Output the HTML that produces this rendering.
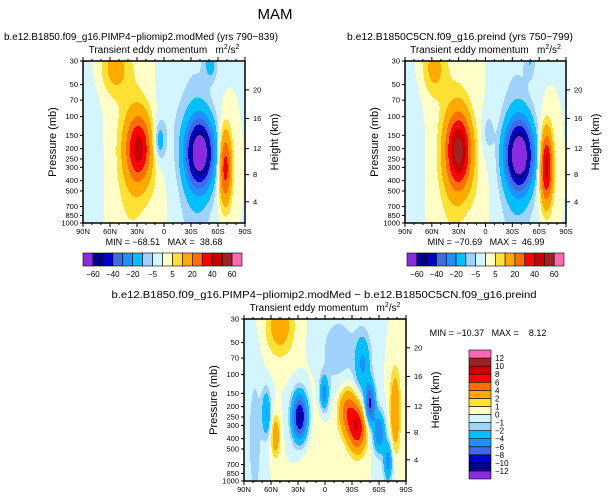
<!DOCTYPE html>
<html><head><meta charset="utf-8">
<style>
html,body{margin:0;padding:0;background:#fff;}
svg{display:block;font-family:"Liberation Sans",sans-serif;}
text{white-space:pre;}
</style></head>
<body>
<svg id="chart" width="615" height="500" viewBox="0 0 615 500" xml:space="preserve" xmlns="http://www.w3.org/2000/svg">
<text x="275" y="19" font-size="15" text-anchor="middle">MAM</text>
<text x="141" y="40" font-size="10" text-anchor="middle" textLength="274" lengthAdjust="spacingAndGlyphs">b.e12.B1850.f09_g16.PIMP4−pliomip2.modMed (yrs 790−839)</text>
<text x="460" y="40" font-size="10" text-anchor="middle" textLength="226" lengthAdjust="spacingAndGlyphs">b.e12.B1850C5CN.f09_g16.preind (yrs 750−799)</text>
<text x="324" y="298" font-size="10" text-anchor="middle" textLength="425" lengthAdjust="spacingAndGlyphs">b.e12.B1850.f09_g16.PIMP4−pliomip2.modMed − b.e12.B1850C5CN.f09_g16.preind</text>
<g id="layer"></g>
</svg>
<script>
// ---- data: blobs (lat deg, N positive; pressure mb; amplitude m2/s2; widths) ----
const p1Lat  = [28, 36, 55, 5, -40, -35, -52, -68, -5, 80, 8];
const p1Pres = [200, 250, 35, 170, 220, 300, 32, 300, 80, 300, 600];
const p1Amp  = [40, 7, 12, -14, -70, -9, -12, 36, -3, -3, 2];
const p1WLat = [9.5, 15, 11, 4.5, 10.5, 14, 5, 5, 10, 8, 8];
const p1WZ   = [0.5, 1.5, 0.4, 0.3, 0.5, 1.8, 0.25, 0.55, 1.0, 1.5, 0.6];

const p2Lat  = [30, 36, 58, -3, -38, -35, -50, -68, 80, 8];
const p2Pres = [210, 250, 35, 140, 230, 300, 30, 300, 300, 600];
const p2Amp  = [50, 7, 12, -7, -72, -9, -8, 46, -2.5, 2];
const p2WLat = [9.5, 15, 9, 4.5, 10.5, 14, 4, 5, 8, 8];
const p2WZ   = [0.55, 1.5, 0.4, 0.3, 0.5, 1.8, 0.25, 0.55, 1.5, 0.6];

const p3Lat  = [28, 65, 55, 1, -25, -36, -42, -50, -60, -70, -78, 50, -15, 78, 15];
const p3Pres = [250, 230, 380, 150, 220, 320, 80, 190, 350, 650, 220, 35, 60, 400, 400];
const p3Amp  = [-11, -4, 3.5, -5, 5, 7.5, -4, -8.5, -6, -5, 4, 3, -1.6, -1.5, 0.6];
const p3WLat = [6, 3.5, 3.5, 3.5, 7, 7, 6, 4, 4.5, 3.5, 4, 11, 16, 6, 11];
const p3WZ   = [0.35, 0.35, 0.3, 0.25, 0.35, 0.35, 0.45, 0.3, 0.3, 0.3, 0.6, 0.45, 0.6, 1.2, 1.0];

const topLevels = [-60,-50,-40,-30,-20,-10,-5,0,5,10,20,30,40,50,60];
const topLabels = ["-60","-40","-20","-5","5","20","40","60"];
const diffLevels = [-12,-10,-8,-6,-4,-2,-1,0,1,2,4,6,8,10,12];
const colors = ["#8a2be2","#00008b","#0000cd","#4169e1","#1e90ff","#00bfff","#a0d2ff","#d2f5ff","#ffffc8","#ffe133","#ffaa00","#ff6e00","#ff0000","#c80000","#a02323","#ff69b4"];
const xTickLabels = ["90N","60N","30N","0","30S","60S","90S"];
const xTickLats = [90,60,30,0,-30,-60,-90];
const pTicks = [30,50,70,100,150,200,250,300,400,500,700,850,1000];
const hTicks = [4,8,12,16,20];
const hTickPres = [632,351,200,104,56];

const NS="http://www.w3.org/2000/svg";
const layer=document.getElementById('layer');
function el(tag,attrs,parent){const e=document.createElementNS(NS,tag);for(const k in attrs)e.setAttribute(k,attrs[k]);(parent||layer).appendChild(e);return e;}

function field(lat,p,L,P,A,WL,WZ){
  const z=Math.log(1000/p);let s=0;
  for(let i=0;i<L.length;i++){
    const dl=(lat-L[i])/WL[i], dz=(z-Math.log(1000/P[i]))/WZ[i];
    s+=A[i]*Math.exp(-0.5*(dl*dl+dz*dz));
  }
  return s;
}
function colorIdx(v,levels){let i=0;while(i<levels.length&&v>=levels[i])i++;return i;}

function panel(name,x0,y0,w,h,L,P,A,WL,WZ,levels){
  const g=el('g',{});
  
  
  const xOf=lat=>x0+(90-lat)/180*w;
  const yOf=p=>y0+h*Math.log(p/30)/Math.log(1000/30);
  const step=1;
  for(let yy=0;yy<h;yy+=step){
    const p=30*Math.exp((yy+step/2)/h*Math.log(1000/30));
    let runStart=0,runC=-1;
    for(let xx=0;xx<=w;xx+=step){
      let c=-2;
      if(xx<w){const lat=90-(xx+step/2)/w*180;c=colorIdx(field(lat,p,L,P,A,WL,WZ),levels);}
      if(c!==runC){
        if(runC>=0){const r=el('rect',{x:x0+runStart,y:y0+yy,width:Math.min(xx,w)-runStart+0.3,height:step+0.3,fill:colors[runC]},g);
          
          }
        runStart=xx;runC=c;
      }
    }
  }
  el('rect',{x:x0,y:y0,width:w,height:h,fill:'none',stroke:'#000','stroke-width':1.5},g);
  for(let i=0;i<xTickLats.length;i++){
    const x=xOf(xTickLats[i]);
    el('line',{x1:x,y1:y0+h,x2:x,y2:y0+h+4,stroke:'#000'},g);
    el('line',{x1:x,y1:y0,x2:x,y2:y0-4,stroke:'#000'},g);
    const t=el('text',{x:x,y:y0+h+11,'font-size':7.5,'text-anchor':'middle'},g);t.textContent=xTickLabels[i];
    
    
  }
  for(let lat=80;lat>-90;lat-=10){if(lat%30===0)continue;const x=xOf(lat);
    el('line',{x1:x,y1:y0+h,x2:x,y2:y0+h+2,stroke:'#000'},g);el('line',{x1:x,y1:y0,x2:x,y2:y0-2,stroke:'#000'},g);}
  for(const p of pTicks){const y=yOf(p);
    el('line',{x1:x0,y1:y,x2:x0-3,y2:y,stroke:'#000'},g);
    const t=el('text',{x:x0-5,y:y+2.5,'font-size':7.5,'text-anchor':'end'},g);t.textContent=p;
    
    }
  for(let i=0;i<hTicks.length;i++){const y=yOf(hTickPres[i]);
    el('line',{x1:x0+w,y1:y,x2:x0+w+4,y2:y,stroke:'#000'},g);
    const t=el('text',{x:x0+w+8,y:y+2.5,'font-size':7.5},g);t.textContent=hTicks[i];
    
    }
  const yl=el('text',{x:0,y:0,'font-size':11,'text-anchor':'middle',transform:`translate(${x0-27},${y0+h/2}) rotate(-90)`},g);yl.textContent="Pressure (mb)";
  
  
  const yr=el('text',{x:0,y:0,'font-size':11,'text-anchor':'middle',transform:`translate(${x0+w+33},${y0+h/2}) rotate(-90)`},g);yr.textContent="Height (km)";
  
  
  const st=el('text',{x:x0+w/2,y:y0-8,'font-size':10,'text-anchor':'middle'},g);
  st.innerHTML='Transient eddy momentum   m<tspan font-size="7" dy="-4">2</tspan><tspan dy="4">/s</tspan><tspan font-size="7" dy="-4">2</tspan>';
  
  
}

function hbar(name,x0,y0,w,h){
  const g=el('g',{});
  
  
  const bw=w/colors.length;
  colors.forEach((c,i)=>{const r=el('rect',{x:x0+i*bw,y:y0,width:bw,height:h,fill:c,stroke:'#000','stroke-width':0.6},g);
    
    });
  topLabels.forEach((lab,j)=>{const i=2*j+1;const t=el('text',{x:x0+i*bw,y:y0+h+11,'font-size':8,'text-anchor':'middle'},g);t.textContent=lab.replace('-','−');
    
    });
}
function vbar(name,x0,y0,w,h){
  const g=el('g',{});
  
  
  const bh=h/colors.length;
  colors.forEach((c,i)=>{const r=el('rect',{x:x0,y:y0+h-(i+1)*bh,width:w,height:bh,fill:c,stroke:'#000','stroke-width':0.6},g);
    
    });
  diffLevels.forEach((lv,i)=>{const t=el('text',{x:x0+w+4,y:y0+h-(i+1)*bh+3,'font-size':8},g);t.textContent=String(lv).replace('-','−');
    
    });
}
function txt(name,x,y,s,size,anchor){const t=el('text',{x:x,y:y,'font-size':size,'text-anchor':anchor||'middle'});t.textContent=s;
  
  }

panel('panel1-contour',83,61,162,162,p1Lat,p1Pres,p1Amp,p1WLat,p1WZ,topLevels);
panel('panel2-contour',405,61,161,162,p2Lat,p2Pres,p2Amp,p2WLat,p2WZ,topLevels);
panel('panel3-contour',244,319,162,162,p3Lat,p3Pres,p3Amp,p3WLat,p3WZ,diffLevels);
hbar('panel1-colorbar',83,253,159,13);
hbar('panel2-colorbar',407,253,157,13);
vbar('panel3-colorbar',469,350,22,129);
txt('panel1-minmax',164,245,'MIN = −68.51   MAX =  38.68',9);
txt('panel2-minmax',486,245,'MIN = −70.69   MAX =  46.99',9);
txt('panel3-minmax',488,336,'MIN = −10.37   MAX =    8.12',9);
</script>
</body></html>
